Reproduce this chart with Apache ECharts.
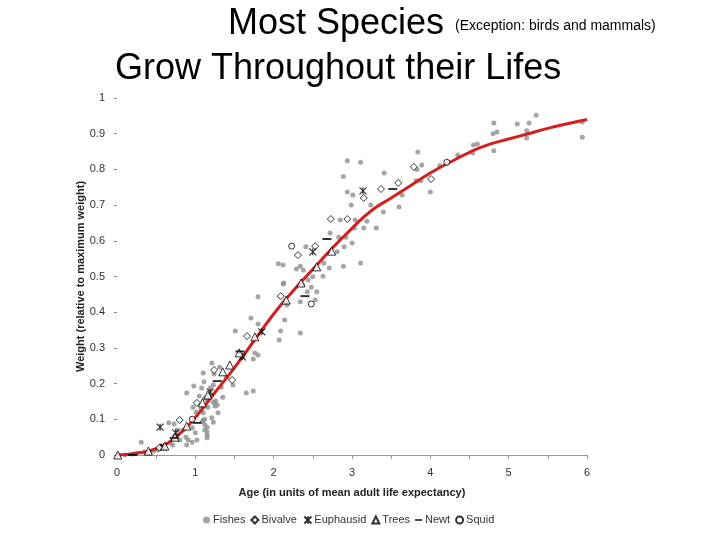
<!DOCTYPE html>
<html>
<head>
<meta charset="utf-8">
<script src="https://cdn.jsdelivr.net/npm/echarts@6/dist/echarts.min.js"></script>
<style>html,body{margin:0;padding:0;background:#fff}#c{width:720px;height:540px}</style>
</head>
<body>
<div id="c"></div>
<script>
const titleLine1 = 'Most Species';
const titleNote = '(Exception: birds and mammals)';
const titleLine2 = 'Grow Throughout their Lifes';
const xName = 'Age (in units of mean adult life expectancy)';
const yName = 'Weight (relative to maximum weight)';
const seriesNames = ['Fishes', 'Bivalve', 'Euphausid', 'Trees', 'Newt', 'Squid'];

const fishes = [
  [4.81,0.93],[5.11,0.927],[5.26,0.93],[5.35,0.952],[4.80,0.90],[4.85,0.905],[5.23,0.908],[5.23,0.888],
  [5.94,0.933],[5.94,0.89],[4.81,0.852],[4.55,0.868],[4.6,0.871],[4.54,0.846],[4.35,0.84],[4.12,0.81],
  [3.84,0.849],[3.89,0.812],[3.83,0.80],[3.82,0.768],[3.88,0.768],[4.0,0.737],[3.64,0.728],
  [2.94,0.824],[3.11,0.82],[2.89,0.78],[3.41,0.79],[2.94,0.737],[3.01,0.728],[2.99,0.70],[3.24,0.70],
  [3.40,0.681],[3.6,0.695],[2.85,0.658],[3.04,0.658],[3.19,0.655],[3.03,0.636],[3.15,0.636],[3.31,0.636],
  [2.72,0.622],[2.83,0.61],[2.92,0.61],[3.0,0.594],[2.41,0.583],[2.9,0.583],[2.81,0.569],[2.12,0.532],
  [2.29,0.521],[2.34,0.529],[2.38,0.518],[2.64,0.538],[2.71,0.524],[2.89,0.529],[3.11,0.538],[2.5,0.499],
  [2.44,0.49],[2.63,0.501],[2.13,0.482],[2.37,0.476],[2.48,0.47],[2.43,0.457],[2.55,0.457],[2.34,0.429],
  [2.53,0.434],[2.17,0.42],[2.06,0.536],
  [2.12,0.479],[1.8,0.443],[2.34,0.342],[2.09,0.347],[2.14,0.378],[2.07,0.322],[1.71,0.384],[1.8,0.367],
  [1.51,0.347],[1.76,0.286],[1.8,0.28],[1.74,0.269],[1.61,0.275],[1.21,0.258],[1.1,0.23],[1.31,0.246],
  [1.4,0.218],[1.48,0.196],[1.33,0.19],[1.74,0.179],[1.65,0.174],[1.35,0.162],[1.26,0.151],[1.12,0.16],
  [1.16,0.134],[1.25,0.137],[1.1,0.118],[1.21,0.104],[1.09,0.093],[1.15,0.078],
  [0.31,0.036],[0.46,0.011],[0.51,0.014],[0.56,0.025],[0.68,0.034],[0.71,0.028],[0.8,0.042],[0.84,0.07],
  [0.88,0.05],[0.91,0.042],[0.89,0.028],[0.66,0.09],[0.73,0.087],[0.77,0.07],[0.89,0.174],[0.98,0.193],
  [0.97,0.134],[1.01,0.12],[1.07,0.129],[1.05,0.165],[1.15,0.154],[1.23,0.148],[1.28,0.14],[1.15,0.056],
  [1.15,0.048],[1.15,0.065],[0.96,0.076],[1.0,0.062],[1.02,0.042],[0.96,0.036],[1.23,0.092],[1.1,0.098],
  [1.08,0.188],[1.19,0.188],[1.23,0.196],[1.24,0.227],[1.11,0.205],[1.29,0.118],
  [0.25,0.005],[0.35,0.008],[0.6,0.02],[1.12,0.1],[1.12,0.085],[1.12,0.07],[0.1,0.0],[0.2,0.003]
];
const bivalve = [
  [2.73,0.661],[2.94,0.661],[3.37,0.745],[3.59,0.762],[2.53,0.585],[2.31,0.56],[2.09,0.445],[3.15,0.72],
  [3.79,0.807],[4.01,0.773],[1.66,0.333],[1.24,0.238],[1.47,0.21],[0.8,0.098],[1.02,0.146],[0.54,0.02]
];
const euphausid = [
  [3.14,0.74],[2.5,0.569],[1.85,0.345],[1.6,0.275],[1.19,0.176],[0.55,0.078],[0.75,0.062],[0.59,0.022]
];
const trees = [
  [0.01,0.0],[0.4,0.011],[0.61,0.025],[0.74,0.05],[0.89,0.081],[1.16,0.168],[1.09,0.146],[1.35,0.233],
  [1.44,0.252],[1.56,0.286],[1.76,0.331],[2.16,0.434],[2.35,0.482],[2.55,0.527],[2.74,0.571]
];
const newt = [
  [0.2,0.0],[1.02,0.09],[1.28,0.207],[0.73,0.048],[2.4,0.445],[2.68,0.605],[3.52,0.745],[1.57,0.29]
];
const squid = [
  [0.96,0.1],[2.23,0.585],[2.48,0.423],[4.21,0.82]
];
const fitCurve = [
  [0,0],[0.25,0.005],[0.5,0.018],[0.75,0.05],[1,0.105],[1.25,0.175],[1.5,0.245],[1.75,0.32],[2,0.395],
  [2.25,0.46],[2.5,0.52],[2.75,0.58],[3,0.635],[3.25,0.685],[3.5,0.72],[3.75,0.755],[4,0.79],[4.25,0.82],
  [4.5,0.848],[4.75,0.87],[5,0.885],[5.25,0.9],[5.5,0.915],[5.75,0.928],[6,0.94]
];

const FONT = '"Liberation Sans", Arial, sans-serif';
const open = {color: '#fff', borderColor: '#000', borderWidth: 1};

const chart = echarts.init(document.getElementById('c'), null, {renderer: 'canvas'});
chart.setOption({
  animation: false,
  backgroundColor: '#fff',
  textStyle: {fontFamily: FONT},
  graphic: [
    {type: 'text', left: 228, top: 6, style: {text: titleLine1, font: '36px ' + FONT, fill: '#000'}},
    {type: 'text', left: 455, top: 19, style: {text: titleNote, font: '14px ' + FONT, fill: '#000'}},
    {type: 'text', left: 115, top: 51, style: {text: titleLine2, font: '36px ' + FONT, fill: '#000'}}
  ],
  grid: {left: 117, right: 133, top: 98, bottom: 85},
  legend: {
    left: 198, top: 509, itemWidth: 7, itemHeight: 7, itemGap: 5,
    textStyle: {fontSize: 11, color: '#333', fontFamily: FONT, padding: [0, 0, 0, -2]},
    data: seriesNames.map(n => n === 'Newt'
      ? {name: n, icon: 'path://M0,4L10,4L10,6.5L0,6.5Z'}
      : {name: n})
  },
  xAxis: {
    type: 'value', min: 0, max: 6, interval: 1,
    name: xName, nameLocation: 'middle', nameGap: 32, nameMoveOverlap: false,
    nameTextStyle: {fontSize: 11, fontWeight: 'bold', color: '#222', fontFamily: FONT},
    axisLine: {show: true, lineStyle: {color: '#999', width: 1}},
    axisTick: {show: true, length: 4, lineStyle: {color: '#999'}},
    minorTick: {show: true, splitNumber: 2, length: 4, lineStyle: {color: '#999'}},
    axisLabel: {fontSize: 11, color: '#333', margin: 12, fontFamily: FONT},
    splitLine: {show: false}
  },
  yAxis: {
    type: 'value', min: 0, max: 1, interval: 0.1,
    name: yName, nameLocation: 'middle', nameGap: 31, nameMoveOverlap: false,
    nameTextStyle: {fontSize: 11, fontWeight: 'bold', color: '#222', fontFamily: FONT},
    axisLine: {show: false},
    axisTick: {show: true, length: 3, lineStyle: {color: '#888'}},
    axisLabel: {fontSize: 11, color: '#333', margin: 12, fontFamily: FONT,
      formatter: v => (v === 0 || v === 1) ? String(v) : v.toFixed(1)},
    splitLine: {show: false}
  },
  series: [
    {name: 'Fishes', type: 'scatter', data: fishes, symbol: 'circle', symbolSize: 5,
     itemStyle: {color: '#8e8e8e'}, z: 1},
    {name: 'fit', type: 'line', data: fitCurve, smooth: true, symbol: 'none',
     lineStyle: {color: '#d21f1f', width: 3}, z: 2, silent: true},
    {name: 'Bivalve', type: 'scatter', data: bivalve, symbol: 'diamond', symbolSize: 7,
     itemStyle: open, z: 3},
    {name: 'Euphausid', type: 'scatter', data: euphausid,
     symbol: 'path://M0,0L10,10M10,0L0,10M5,0L5,10', symbolSize: 7,
     itemStyle: {color: 'none', borderColor: '#000', borderWidth: 1.2}, z: 3},
    {name: 'Trees', type: 'scatter', data: trees, symbol: 'triangle', symbolSize: 8,
     itemStyle: open, z: 3},
    {name: 'Newt', type: 'scatter', data: newt, symbol: 'rect', symbolSize: [9, 2],
     itemStyle: {color: '#000'}, z: 3},
    {name: 'Squid', type: 'scatter', data: squid, symbol: 'circle', symbolSize: 6,
     itemStyle: open, z: 3}
  ]
});
</script>
</body>
</html>
